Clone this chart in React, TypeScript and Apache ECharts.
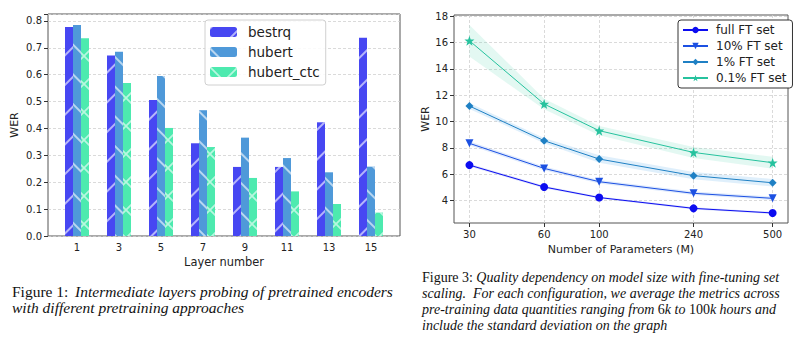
import React, { useEffect, useRef } from "react";
import * as echarts from "echarts";

// ---- Figure 1 data ----
const layers = ["1", "3", "5", "7", "9", "11", "13", "15"];
const bestrq = [0.778, 0.672, 0.506, 0.345, 0.257, 0.257, 0.423, 0.738];
const hubert = [0.785, 0.686, 0.595, 0.468, 0.366, 0.29, 0.237, 0.258];
const hubertCtc = [0.736, 0.569, 0.402, 0.331, 0.216, 0.166, 0.119, 0.087];
const barTicks = [0, 0.1, 0.2, 0.3, 0.4, 0.5, 0.6, 0.7, 0.8];

// ---- Figure 3 data ----
const params = [30, 60, 100, 240, 500];
const fullFT = [6.7, 5.04, 4.24, 3.42, 3.07];
const ft10 = [8.35, 6.45, 5.44, 4.56, 4.18];
const ft1 = [11.18, 8.55, 7.16, 5.9, 5.36];
const ft01 = [16.13, 11.33, 9.31, 7.66, 6.88];
const stdFull = [0.1, 0.1, 0.08, 0.08, 0.08];
const std10 = [0.15, 0.15, 0.13, 0.13, 0.13];
const std1 = [0.22, 0.2, 0.28, 0.28, 0.28];
const std01 = [1.2, 0.4, 0.35, 0.42, 0.45];
const werTicks = [4, 6, 8, 10, 12, 14, 16, 18];

const FONT = "DejaVu Sans";
const SERIF = "Liberation Serif";
const STAR =
  "path://M0,-10 L2.35,-3.24 L9.51,-3.09 L3.8,1.24 L5.88,8.09 L0,4 L-5.88,8.09 L-3.8,1.24 L-9.51,-3.09 L-2.35,-3.24 Z";
const XTILE =
  "path://M0,0 L1.2,0 L28,26.8 L28,28 L26.8,28 L0,1.2 Z M26.8,0 L28,0 L28,1.2 L1.2,28 L0,28 L0,26.8 Z";

function hatch(rot: number) {
  return {
    symbol: "rect",
    symbolSize: 1,
    color: "rgba(255,255,255,0.6)",
    dashArrayX: [1, 0],
    dashArrayY: [1.2, 18.8],
    rotation: rot,
  };
}

const crossHatch = {
  symbol: XTILE,
  symbolSize: 1,
  color: "rgba(255,255,255,0.6)",
  dashArrayX: [28, 0],
  dashArrayY: [28, 0],
  rotation: 0,
};

export default function App() {
  const ref = useRef<HTMLDivElement>(null);
  useEffect(() => {
    if (!ref.current) return;
    const chart = echarts.init(ref.current, undefined, { renderer: "svg" });

    const lineCfg = [
      { name: "full FT set", data: fullFT, std: stdFull, color: "#0c0cf0", band: "rgba(110,140,240,0.25)", symbol: "circle", size: 8, rot: 0 },
      { name: "10% FT set", data: ft10, std: std10, color: "#1c50e2", band: "rgba(110,160,240,0.22)", symbol: "triangle", size: 8, rot: 180 },
      { name: "1% FT set", data: ft1, std: std1, color: "#1f80c4", band: "rgba(110,180,235,0.22)", symbol: "diamond", size: 8, rot: 0 },
      { name: "0.1% FT set", data: ft01, std: std01, color: "#26c29e", band: "rgba(100,215,185,0.18)", symbol: STAR, size: 10, rot: 0 },
    ];

    const bandSeries: any[] = lineCfg.map((c) => ({
      type: "custom",
      name: c.name + " std",
      xAxisIndex: 2,
      yAxisIndex: 2,
      silent: true,
      z: 1,
      data: [0],
      renderItem: (_p: any, api: any) => {
        const upper = params.map((p, k) => api.coord([p, c.data[k] + c.std[k]]));
        const lower = params.map((p, k) => api.coord([p, c.data[k] - c.std[k]])).reverse();
        return {
          type: "polygon",
          shape: { points: upper.concat(lower) },
          style: { fill: c.band, stroke: "none" },
        };
      },
    }));

    const lineSeries: any[] = lineCfg.map((c) => ({
      type: "line",
      name: c.name,
      xAxisIndex: 2,
      yAxisIndex: 2,
      data: params.map((p, k) => [p, c.data[k]]),
      symbol: c.symbol,
      symbolSize: c.size,
      symbolRotate: c.rot,
      showSymbol: true,
      itemStyle: { color: c.color },
      lineStyle: { color: c.color, width: 1 },
      z: 5,
    }));

    const dashed = { show: true, lineStyle: { color: "#d0d0d0", type: [3, 2], width: 0.8 } };
    const lbl = { fontFamily: FONT, fontSize: 10, color: "#222", margin: 6 };

    chart.setOption({
      animation: false,
      grid: [
        { left: 48, top: 14, width: 352, height: 222, show: true, borderColor: "#555", borderWidth: 1, containLabel: false },
        { left: 56, top: 14, width: 336, height: 222, containLabel: false },
        { left: 454, top: 15, width: 334, height: 208, show: true, borderColor: "#555", borderWidth: 1, containLabel: false },
      ],
      xAxis: [
        { gridIndex: 0, type: "value", min: 0, max: 1, show: false },
        {
          gridIndex: 1,
          type: "category",
          data: layers,
          axisLine: { show: false },
          axisTick: { alignWithLabel: true, length: 4, lineStyle: { color: "#333" } },
          axisLabel: lbl,
          name: "Layer number",
          nameLocation: "middle",
          nameGap: 17,
          nameTextStyle: { fontFamily: FONT, fontSize: 11.4, color: "#222" },
        },
        {
          gridIndex: 2,
          type: "log",
          logBase: 10,
          min: 26,
          max: 576.6,
          axisLine: { show: false },
          axisTick: { customValues: params, length: 4, lineStyle: { color: "#333" } },
          axisLabel: { ...lbl, customValues: params },
          splitLine: dashed,
          minorTick: { show: false },
          minorSplitLine: { show: false },
          name: "Number of Parameters (M)",
          nameLocation: "middle",
          nameGap: 17,
          nameTextStyle: { fontFamily: FONT, fontSize: 11, color: "#222" },
        },
      ],
      yAxis: [
        {
          gridIndex: 0,
          type: "value",
          min: 0,
          max: 0.826,
          interval: 0.1,
          axisLine: { show: false },
          axisTick: { show: true, length: 4, lineStyle: { color: "#333" } },
          axisLabel: { ...lbl, formatter: (v: number) => v.toFixed(1), customValues: barTicks },
          splitLine: dashed,
          name: "WER",
          nameLocation: "middle",
          nameGap: 28,
          nameTextStyle: { fontFamily: FONT, fontSize: 11, color: "#222" },
        },
        { gridIndex: 1, type: "value", min: 0, max: 0.826, show: false },
        {
          gridIndex: 2,
          type: "value",
          min: 2.31,
          max: 18.08,
          axisLine: { show: false },
          axisTick: { customValues: werTicks, length: 4, lineStyle: { color: "#333" } },
          axisLabel: { ...lbl, customValues: werTicks },
          splitLine: dashed,
          name: "WER",
          nameLocation: "middle",
          nameGap: 21,
          nameTextStyle: { fontFamily: FONT, fontSize: 11, color: "#222" },
        },
      ],
      legend: [
        {
          data: ["bestrq", "hubert", "hubert_ctc"],
          orient: "vertical",
          left: 205,
          top: 20,
          padding: [4, 6, 5, 5],
          itemGap: 4,
          itemWidth: 27,
          itemHeight: 10,
          backgroundColor: "rgba(255,255,255,0.85)",
          borderColor: "#d0d0d0",
          borderWidth: 1,
          borderRadius: 3,
          textStyle: { fontFamily: FONT, fontSize: 13.5, color: "#222", lineHeight: 16, padding: [0, 0, 0, 6] },
        },
        {
          data: lineCfg.map((c) => c.name),
          orient: "vertical",
          left: 678,
          top: 20,
          padding: [4, 6, 4, 4],
          itemGap: 4,
          itemWidth: 25,
          itemHeight: 8,
          backgroundColor: "#fff",
          borderColor: "#333",
          borderWidth: 1,
          borderRadius: 3,
          textStyle: { fontFamily: FONT, fontSize: 12, color: "#222", lineHeight: 12, padding: [0, 0, 0, 3] },
        },
      ],
      series: [
        { type: "bar", name: "bestrq", xAxisIndex: 1, yAxisIndex: 1, data: bestrq, barWidth: 8, barGap: "0%", itemStyle: { color: "#4747f2", decal: hatch(-Math.PI / 4) } },
        { type: "bar", name: "hubert", xAxisIndex: 1, yAxisIndex: 1, data: hubert, barWidth: 8, barGap: "0%", itemStyle: { color: "#4f99d9", decal: hatch(Math.PI / 4) } },
        { type: "bar", name: "hubert_ctc", xAxisIndex: 1, yAxisIndex: 1, data: hubertCtc, barWidth: 8, barGap: "0%", itemStyle: { color: "#4deaaf", decal: crossHatch } },
        ...bandSeries,
        ...lineSeries,
      ],
      graphic: [
        {
          type: "text",
          left: 12,
          top: 283,
          style: {
            text: "{r|Figure 1:}  {i|Intermediate layers probing of pretrained encoders}\n{i|with different pretraining approaches}",
            rich: {
              r: { fontFamily: SERIF, fontSize: 15.5, fill: "#111", lineHeight: 16 },
              i: { fontFamily: SERIF, fontSize: 15.5, fontStyle: "italic", fill: "#111", lineHeight: 16 },
            },
          },
        },
        {
          type: "text",
          left: 422,
          top: 270,
          style: {
            text:
              "{r|Figure 3:} {i|Quality dependency on model size with fine-tuning set}\n" +
              "{i|scaling.  For each configuration, we average the metrics across}\n" +
              "{i|pre-training data quantities ranging from }{r|6}{i|k to }{r|100}{i|k hours and}\n" +
              "{i|include the standard deviation on the graph}",
            rich: {
              r: { fontFamily: SERIF, fontSize: 14, fill: "#111", lineHeight: 16 },
              i: { fontFamily: SERIF, fontSize: 14, fontStyle: "italic", fill: "#111", lineHeight: 16 },
            },
          },
        },
      ],
    });
    return () => chart.dispose();
  }, []);
  return <div ref={ref} style={{ position: "fixed", left: 0, top: 0, width: 800, height: 348, background: "#fff" }} />;
}
